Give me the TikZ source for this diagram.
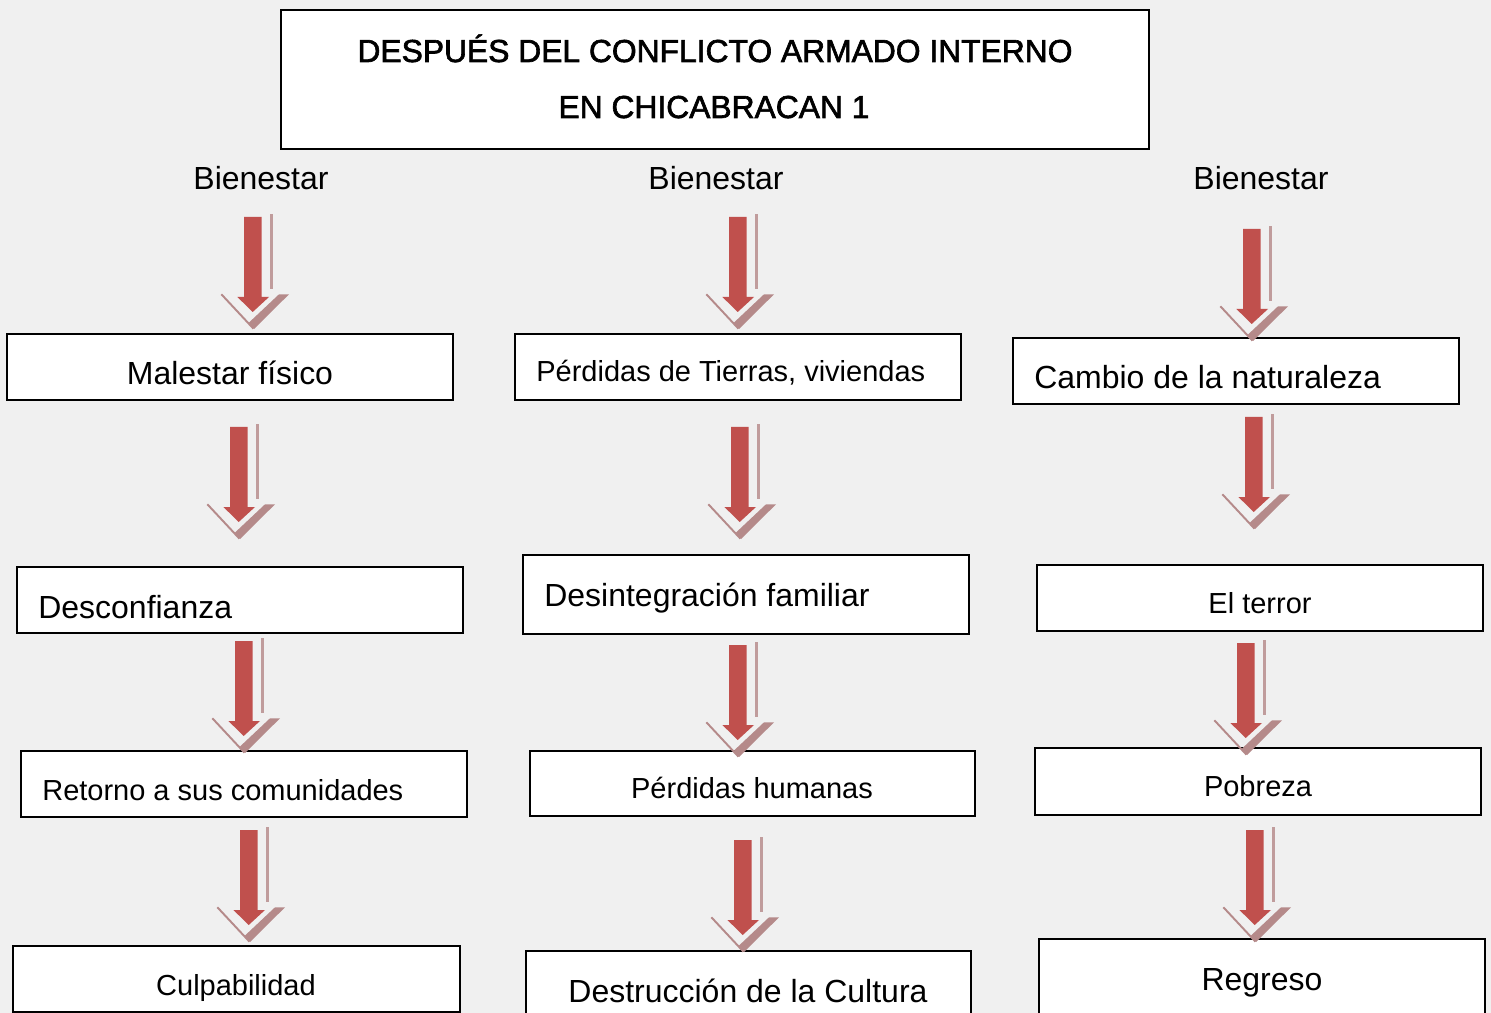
\documentclass[tikz,border=0pt]{standalone}
\usepackage{fontspec}
\setmainfont{Liberation Sans}
\newfontfamily\titlefont{Liberation Sans}[FakeBold=2]
\usetikzlibrary{fit}
\definecolor{bg}{HTML}{F0F0F0}
\definecolor{shaftred}{HTML}{C0504D}
\definecolor{shadecol}{HTML}{B58A8A}
\begin{document}
\begin{tikzpicture}[x=0.02cm,y=-0.02cm,
  box/.style={draw=black, line width=1.1pt, fill=white, inner sep=0pt},
  bigtxt/.style={font=\fontsize{18.2}{22}\selectfont, inner sep=0pt},
  smalltxt/.style={font=\fontsize{16.5}{20}\selectfont, inner sep=0pt},
  titletxt/.style={font=\titlefont\fontsize{18.1}{20}\selectfont, inner sep=0pt, anchor=base},
  dnarrow/.pic={
    \fill[shadecol!85!white] (26,-3) rectangle (28.5,72);
    \fill[shaftred] (0,0) -- (17.5,0) -- (17.5,80) -- (25,80) -- (8.7,95) -- (-6.6,80) -- (0,80) -- cycle;
    \draw[shadecol, line width=1.1pt] (-22.6,77.3) -- (9.4,111.6);
    \fill[shadecol] (35,77.3) -- (45,77.3) -- (10,112) -- (4.5,106) -- cycle;
  }]
\fill[bg] (0,0) rectangle (1491,1013);
\useasboundingbox (0,0) rectangle (1491,1013);

% title
\node[box, fit={(281,10) (1149,149)}] (title) {};
\node[titletxt] (t1) at (715,62) {DESPUÉS DEL CONFLICTO ARMADO INTERNO};
\node[titletxt] (t2) at (714,118) {EN CHICABRACAN 1};

% headers
\node[bigtxt, anchor=base] (h1) at (261,190) {Bienestar};
\node[bigtxt, anchor=base] (h2) at (716,190) {Bienestar};
\node[bigtxt, anchor=base] (h3) at (1261,190) {Bienestar};

% column 1
\node[box, fit={(7,334) (453,400)}] (a1) {};
\node[bigtxt, anchor=base] (a1t) at (230,385) {Malestar físico};
\node[box, fit={(17,567) (463,633)}] (a2) {};
\node[bigtxt, anchor=base west] (a2t) at (38,618) {Desconfianza};
\node[box, fit={(21,751) (467,817)}] (a3) {};
\node[smalltxt, anchor=base west] (a3t) at (42,800) {Retorno a sus comunidades};
\node[box, fit={(13,946) (460,1012)}] (a4) {};
\node[smalltxt, anchor=base] (a4t) at (236,995) {Culpabilidad};

% column 2
\node[box, fit={(515,334) (961,400)}] (b1) {};
\node[smalltxt, anchor=base west] (b1t) at (536,382) {Pérdidas de Tierras, viviendas};
\node[box, fit={(523,555) (969,634)}] (b2) {};
\node[bigtxt, anchor=base west] (b2t) at (544,606) {Desintegración familiar};
\node[box, fit={(530,751) (975,816)}] (b3) {};
\node[smalltxt, anchor=base] (b3t) at (752,798) {Pérdidas humanas};
\node[box, fit={(526,951) (971,1014)}] (b4) {};
\node[bigtxt, anchor=base] (b4t) at (748,1002) {Destrucción de la Cultura};

% column 3
\node[box, fit={(1013,338) (1459,404)}] (c1) {};
\node[bigtxt, anchor=base west] (c1t) at (1034,389) {Cambio de la naturaleza};
\node[box, fit={(1037,565) (1483,631)}] (c2) {};
\node[smalltxt, anchor=base] (c2t) at (1260,613) {El terror};
\node[box, fit={(1035,748) (1481,815)}] (c3) {};
\node[smalltxt, anchor=base] (c3t) at (1258,796) {Pobreza};
\node[box, fit={(1039,939) (1485,1014)}] (c4) {};
\node[bigtxt, anchor=base] (c4t) at (1262,990) {Regreso};

% arrows
\pic at (244,217) {dnarrow};
\pic at (230,427) {dnarrow};
\pic at (235,641) {dnarrow};
\pic at (240,830) {dnarrow};
\pic at (729,217) {dnarrow};
\pic at (731,427) {dnarrow};
\pic at (729,645) {dnarrow};
\pic at (734,840) {dnarrow};
\pic at (1243,229) {dnarrow};
\pic at (1245,417) {dnarrow};
\pic at (1237,643) {dnarrow};
\pic at (1246,830) {dnarrow};
\end{tikzpicture}
\end{document}
